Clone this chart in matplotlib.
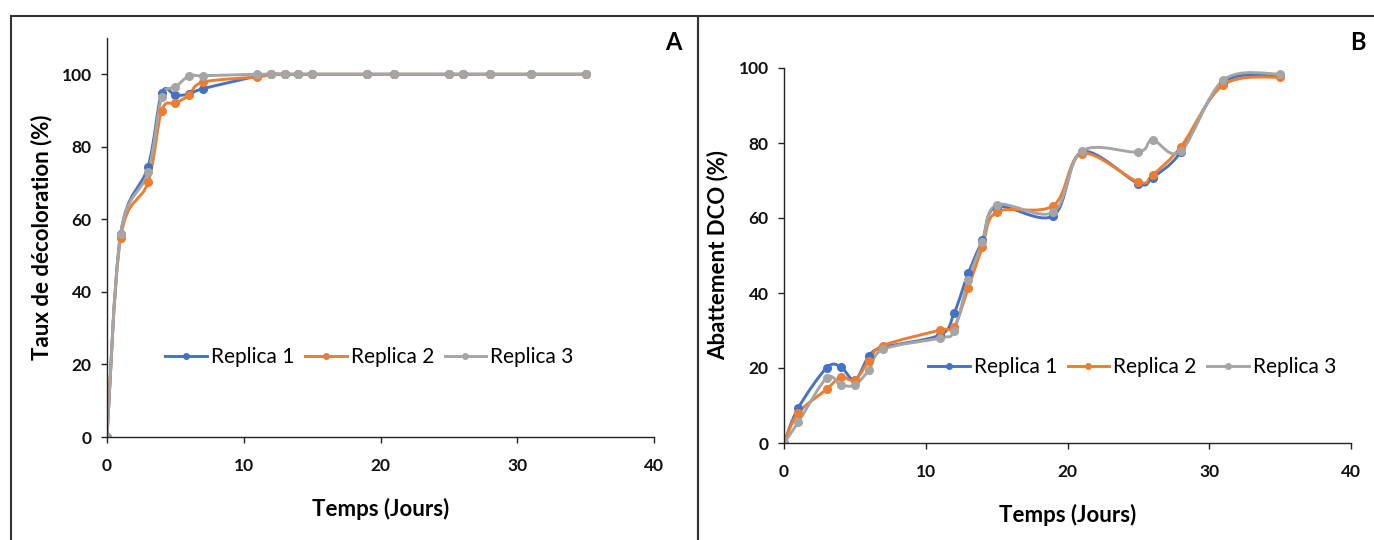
import numpy as np
import matplotlib
matplotlib.use('AGG')
import matplotlib.pyplot as plt
from matplotlib.path import Path
from matplotlib.patches import PathPatch, Rectangle
from matplotlib.lines import Line2D

plt.rcParams['font.family'] = ['Lato', 'DejaVu Sans']

# days of sampling (same for both panels)
days = [0, 1, 3, 4, 5, 6, 7, 11, 12, 13, 14, 15, 19, 21, 25, 26, 28, 31, 35]

# panel A: decolouration rate (%)
decol_r1 = [0, 56, 74.5, 94.8, 94.2, 94.5, 96, 99.5, 100, 100, 100, 100, 100, 100, 100, 100, 100, 100, 100]
decol_r2 = [0, 55, 70.2, 90, 92, 94.2, 97.8, 99.3, 100, 100, 100, 100, 100, 100, 100, 100, 100, 100, 100]
decol_r3 = [0, 56, 73, 93.7, 96.4, 99.6, 99.6, 100, 100, 100, 100, 100, 100, 100, 100, 100, 100, 100, 100]

# panel B: COD removal (%)
dco_r1 = [0, 9.3, 20, 20.3, 16.8, 23.2, 25.5, 28.8, 34.6, 45.3, 54.1, 63, 60.6, 77.6, 69.2, 70.8, 77.6, 96.2, 97.8]
dco_r2 = [0, 8, 14.3, 17.6, 16.8, 22, 26, 30.1, 31, 41.3, 52.3, 61.6, 63.3, 77.2, 69.6, 71.5, 79, 95.5, 97.6]
dco_r3 = [0, 5.5, 17.3, 15.5, 15.5, 19.5, 25, 28, 30, 43.5, 53.6, 63.5, 61.6, 77.8, 77.6, 80.8, 77.8, 96.8, 98.4]

labels = ['Replica 1', 'Replica 2', 'Replica 3']
colors = ['#4472C4', '#ED7D31', '#A5A5A5']


def smooth_path(x, y):
    # Excel-like smoothed line: cubic Bezier through every point
    pts = np.column_stack([x, y]).astype(float)
    n = len(pts)
    verts = [pts[0]]
    codes = [Path.MOVETO]
    for i in range(n - 1):
        p0 = pts[i - 1] if i > 0 else pts[i]
        p1, p2 = pts[i], pts[i + 1]
        p3 = pts[i + 2] if i + 2 < n else pts[i + 1]
        verts += [p1 + (p2 - p0) / 6, p2 - (p3 - p1) / 6, p2]
        codes += [Path.CURVE4] * 3
    return Path(verts, codes)


def draw_panel(ax, series, ylim, ylabel, leg_pos):
    for ys, c, lab in zip(series, colors, labels):
        ax.add_patch(PathPatch(smooth_path(days, ys), fill=False, edgecolor=c,
                               lw=2.1, capstyle='round', joinstyle='round'))
        ax.plot(days, ys, 'o', color=c, ms=5.5, label=lab)
    ax.set_xlim(0, 40)
    ax.set_ylim(*ylim)
    ax.set_xticks([0, 10, 20, 30, 40])
    ax.set_yticks([0, 20, 40, 60, 80, 100])
    for s in ['top', 'right']:
        ax.spines[s].set_visible(False)
    for s in ['left', 'bottom']:
        ax.spines[s].set_color('#222222')
        ax.spines[s].set_linewidth(1.0)
    ax.tick_params(axis='both', direction='out', length=4, width=1, colors='#222222',
                   labelsize=12.5, labelcolor='#111111')
    ax.tick_params(axis='x', pad=11)
    ax.tick_params(axis='y', pad=7)
    for t in ax.get_xticklabels() + ax.get_yticklabels():
        t.set_fontweight('bold')
    ax.set_xlabel('Temps (Jours)', fontsize=16, fontweight='bold', labelpad=17)
    ax.set_ylabel(ylabel, fontsize=16, fontweight='bold', labelpad=7)
    handles = [Line2D([], [], color=c, lw=2.1, marker='o', ms=4) for c in colors]
    ax.legend(handles, labels, loc='center', bbox_to_anchor=leg_pos, ncol=3,
              frameon=False, fontsize=15, handlelength=2.0, handletextpad=0.2,
              columnspacing=0.5)
    return ax


fig = plt.figure(figsize=(13.74, 5.40), dpi=100)

# panel frames
fig.add_artist(Rectangle((11 / 1374, -0.1), (698 - 11) / 1374, 1.1 - 16 / 540,
                         transform=fig.transFigure, fill=False, ec='#333333', lw=1.5))
fig.add_artist(Rectangle((698 / 1374, -0.1), 0.5, 1.1 - 16 / 540,
                         transform=fig.transFigure, fill=False, ec='#333333', lw=1.5))

ax1 = fig.add_axes([107 / 1374, 1 - 437 / 540, (654 - 107) / 1374, (437 - 38) / 540])
draw_panel(ax1, [decol_r1, decol_r2, decol_r3], (0, 110),
           'Taux de décoloration (%)', (0.48, 0.2))

ax2 = fig.add_axes([784 / 1374, 1 - 443 / 540, (1351 - 784) / 1374, (443 - 68) / 540])
draw_panel(ax2, [dco_r1, dco_r2, dco_r3], (0, 100),
           'Abattement DCO (%)', (0.614, 0.203))

fig.text(673 / 1374, 1 - 43 / 540, 'A', fontsize=17, fontweight='bold', ha='center', va='center')
fig.text(1358 / 1374, 1 - 43 / 540, 'B', fontsize=17, fontweight='bold', ha='center', va='center')

fig.savefig('out.png', dpi=100)
